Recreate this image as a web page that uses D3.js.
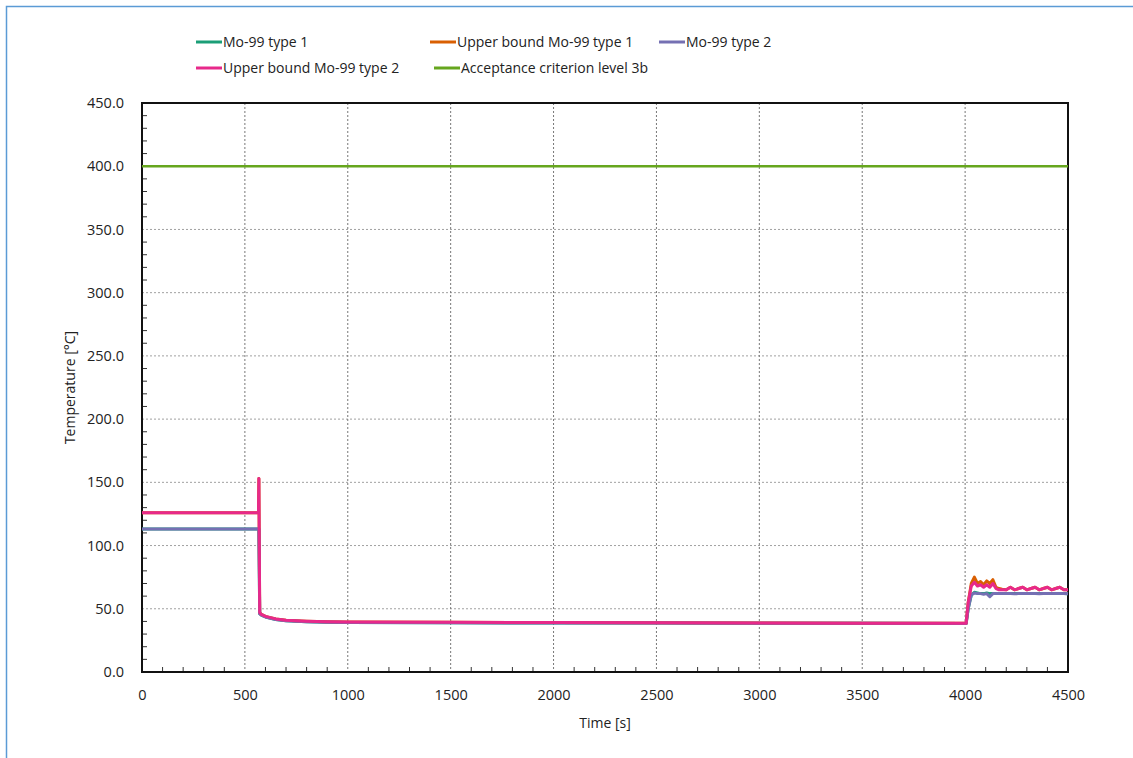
<!DOCTYPE html>
<html>
<head>
<meta charset="utf-8">
<script src="https://cdn.jsdelivr.net/npm/d3@7"></script>
<style>
  body { margin: 0; background: #fff; }
  svg { display: block; font-family: "Open Sans", sans-serif; }
</style>
</head>
<body>
<svg id="chart" width="1133" height="758"></svg>
<script>
// series data
var time = [0, 566, 568, 572, 580, 600, 650, 700, 800, 900, 1000, 1500, 2000, 2500, 3000, 3500, 4005,
  4015, 4030, 4045, 4060, 4075, 4090, 4105, 4120, 4135, 4150, 4165, 4180, 4200, 4220, 4240, 4260,
  4280, 4300, 4320, 4340, 4360, 4380, 4400, 4420, 4440, 4460, 4480, 4500];

var mo99Type1 = [113, 113, 113, 46, 45, 43.5, 41.5, 40.5, 39.7, 39.3, 39.1, 38.9, 38.8, 38.7, 38.6, 38.5, 38.4,
  50, 61, 63, 62.5, 62, 62, 62.5, 62, 62, 62, 62, 62, 62, 62, 62, 62,
  62, 62, 62, 62, 62, 62, 62, 62, 62, 62, 62, 61.8];

var upperType1 = [126, 126, 153, 47, 45.5, 44, 42, 41, 40.2, 39.7, 39.5, 39.3, 39.1, 38.9, 38.8, 38.6, 38.5,
  55, 70, 75, 70, 71.5, 69, 72, 70, 73, 67, 66, 65.5, 65, 67, 65, 66, 67,
  65, 66, 67, 65, 66, 67, 65, 66, 67, 65, 65];

var mo99Type2 = [113, 113, 113, 46, 45, 43.5, 41.5, 40.5, 39.7, 39.3, 39.1, 38.9, 38.8, 38.7, 38.6, 38.5, 38.4,
  50, 61, 62.5, 62, 62, 61.5, 62, 59.5, 62, 62, 62, 62, 62, 62, 61.8, 62,
  62, 62, 62, 62, 61.8, 62, 62, 62, 62, 62, 62, 61.8];

var upperType2 = [126, 126, 153, 47, 45.5, 44, 42, 41, 40.2, 39.7, 39.5, 39.3, 39.1, 38.9, 38.8, 38.6, 38.5,
  55, 68, 71, 68, 69, 67, 69, 67, 70, 66, 65, 65, 65, 67, 65, 66, 67,
  65, 66, 67, 65, 66, 67, 65, 66, 67, 65, 65];

var criterionTime = [0, 4500];
var criterionLevel = [400, 400];

var seriesNames = ["Mo-99 type 1", "Upper bound Mo-99 type 1", "Mo-99 type 2",
  "Upper bound Mo-99 type 2", "Acceptance criterion level 3b"];
var seriesColors = ["#1b9e77", "#d95f02", "#7570b3", "#e7298a", "#66a61e"];

var xTicks = [0, 500, 1000, 1500, 2000, 2500, 3000, 3500, 4000, 4500];
var yTicks = [0, 50, 100, 150, 200, 250, 300, 350, 400, 450];

var svg = d3.select("#chart");

// outer frame
svg.append("rect")
  .attr("x", 6.5).attr("y", 6.5)
  .attr("width", 1140).attr("height", 800)
  .attr("fill", "none")
  .attr("stroke", "#5b9bd5")
  .attr("stroke-width", 1.5);

var plotLeft = 142, plotRight = 1068, plotTop = 103, plotBottom = 672;

var x = d3.scaleLinear().domain([0, 4500]).range([plotLeft, plotRight]);
var y = d3.scaleLinear().domain([0, 450]).range([plotBottom, plotTop]);

// gridlines
svg.append("g").selectAll("line")
  .data(yTicks.slice(1, -1))
  .enter().append("line")
  .attr("x1", plotLeft).attr("x2", plotRight)
  .attr("y1", d => y(d)).attr("y2", d => y(d))
  .attr("stroke", "#a0a0a0")
  .attr("stroke-width", 1)
  .attr("stroke-dasharray", "2,2");

svg.append("g").selectAll("line")
  .data(xTicks.slice(1, -1))
  .enter().append("line")
  .attr("x1", d => x(d)).attr("x2", d => x(d))
  .attr("y1", plotTop).attr("y2", plotBottom)
  .attr("stroke", "#777")
  .attr("stroke-width", 1)
  .attr("stroke-dasharray", "2,2");

// minor ticks, pointing inward
svg.append("g").selectAll("line")
  .data(d3.range(0, 450, 10).filter(d => d % 50 != 0))
  .enter().append("line")
  .attr("x1", plotLeft).attr("x2", plotLeft + 5)
  .attr("y1", d => y(d)).attr("y2", d => y(d))
  .attr("stroke", "#333");

svg.append("g").selectAll("line")
  .data(d3.range(0, 4500, 100).filter(d => d % 500 != 0))
  .enter().append("line")
  .attr("x1", d => x(d)).attr("x2", d => x(d))
  .attr("y1", plotBottom).attr("y2", plotBottom - 5)
  .attr("stroke", "#333");

// axes with labels
var yAxis = svg.append("g")
  .attr("transform", `translate(${plotLeft},0)`)
  .call(d3.axisLeft(y).tickValues(yTicks).tickSize(0).tickPadding(18).tickFormat(d3.format(".1f")));
var xAxis = svg.append("g")
  .attr("transform", `translate(0,${plotBottom})`)
  .call(d3.axisBottom(x).tickValues(xTicks).tickSize(0).tickPadding(18).tickFormat(d3.format("d")));

[yAxis, xAxis].forEach(a => {
  a.select(".domain").remove();
  a.selectAll("text").attr("font-size", 14.5).attr("fill", "#222")
    .style("font-family", "'Open Sans', sans-serif");
});

// plot frame
svg.append("rect")
  .attr("x", plotLeft).attr("y", plotTop)
  .attr("width", plotRight - plotLeft).attr("height", plotBottom - plotTop)
  .attr("fill", "none")
  .attr("stroke", "#111")
  .attr("stroke-width", 2);

// data lines
var line = d3.line()
  .x(d => x(d[0]))
  .y(d => y(d[1]));

var allSeries = [mo99Type1, upperType1, mo99Type2, upperType2];
allSeries.forEach((values, i) => {
  svg.append("path")
    .datum(time.map((t, j) => [t, values[j]]))
    .attr("d", line)
    .attr("fill", "none")
    .attr("stroke", seriesColors[i])
    .attr("stroke-width", 3)
    .attr("stroke-linejoin", "round");
});

svg.append("path")
  .datum(criterionTime.map((t, j) => [t, criterionLevel[j]]))
  .attr("d", line)
  .attr("fill", "none")
  .attr("stroke", seriesColors[4])
  .attr("stroke-width", 2.5);

// axis titles
svg.append("text")
  .attr("x", (plotLeft + plotRight) / 2).attr("y", 728)
  .attr("text-anchor", "middle")
  .attr("font-size", 14).attr("fill", "#222")
  .text("Time [s]");

svg.append("text")
  .attr("transform", `translate(75,${(plotTop + plotBottom) / 2}) rotate(-90)`)
  .attr("text-anchor", "middle")
  .attr("font-size", 14).attr("fill", "#222")
  .text("Temperature [°C]");

// legend
var legendPos = [[196, 42], [430, 42], [659, 42], [196, 68], [434, 68]];
var legend = svg.append("g").selectAll("g")
  .data(seriesNames)
  .enter().append("g")
  .attr("transform", (d, i) => `translate(${legendPos[i][0]},${legendPos[i][1]})`);

legend.append("line")
  .attr("x1", 0).attr("x2", 26)
  .attr("y1", 0).attr("y2", 0)
  .attr("stroke", (d, i) => seriesColors[i])
  .attr("stroke-width", 3);

legend.append("text")
  .attr("x", 27).attr("y", 5)
  .attr("font-size", 14).attr("fill", "#222")
  .text(d => d);
</script>
</body>
</html>
